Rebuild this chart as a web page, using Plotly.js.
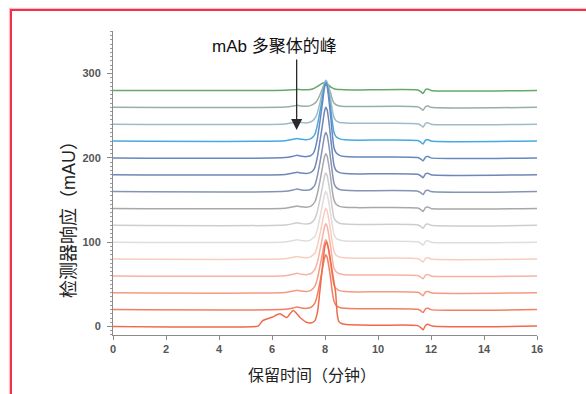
<!DOCTYPE html>
<html>
<head>
<meta charset="utf-8">
<script src="https://cdn.plot.ly/plotly-3.0.1.min.js"></script>
<style>
  html, body { margin: 0; padding: 0; background: #fff; overflow: hidden; }
  #chart { width: 586px; height: 394px; position: absolute; left: 0; top: 0; }
  #frame { position: absolute; left: 10px; top: 9px; width: 800px; height: 600px;
           border: 2px solid #ec3348; box-shadow: 0 0 1px 1px rgba(240,110,130,0.45);
           pointer-events: none; }
</style>
</head>
<body>
<div id="chart"></div>
<div id="frame"></div>
<script>
// Retention time grid for the bottom (first) run
const bottomTimes = [0, 5.4, 5.5, 5.65, 6.0, 6.3, 6.55, 6.8, 7.05, 7.3, 7.5, 7.62, 7.72, 7.8, 7.9, 8.0, 8.05, 8.12, 8.2, 8.3, 8.4, 8.46, 8.52, 8.62, 8.8, 10.0, 11.5, 11.62, 11.7, 11.8, 11.9, 12.05, 16];
const run0 = [0, 0, 1, 7, 11, 15, 10.5, 19, 11, 5, 4.5, 7, 18, 40, 70, 96, 100, 94, 80, 60, 40, 15, 6, 3.5, 2.5, 1.5, 1, -1.5, -4, 1.5, 2.5, 0.5, 0.5];

// Retention time grid for the stacked runs
const stackTimes = [0, 6.5, 6.8, 6.95, 7.1, 7.3, 7.45, 7.55, 7.62, 7.7, 7.8, 7.9, 7.98, 8.03, 8.08, 8.15, 8.22, 8.28, 8.34, 8.42, 8.55, 8.75, 9.2, 11.5, 11.62, 11.7, 11.8, 11.9, 12.0, 16];
const run20  = [0, 0.3, 2, 3, 2, 1.5, 2.5, 5, 8, 16, 31, 48, 61, 65, 62, 50, 35, 20, 10, 5, 2.5, 1.5, 1, 0.5, -1.5, -3.5, 1.2, 1.5, 0, 0];
const run40  = [0, 0.3, 2, 3, 2, 1.5, 2.5, 5, 8, 15, 30, 46, 59, 63, 60, 48, 33, 19, 9, 5, 2.5, 1.5, 1, 0.5, -1.5, -3.5, 1.2, 1.5, 0, 0];
const run60  = [0, 0.3, 2, 3, 2, 1.5, 2.5, 5, 8, 15, 29, 45, 58, 62, 59, 47, 33, 19, 9, 5, 2.5, 1.5, 1, 0.5, -1.5, -3.5, 1.2, 1.5, 0, 0];
const run80  = [0, 0.3, 2, 3, 2, 1.5, 2.5, 5, 7, 14, 28, 44, 56, 60, 57, 46, 32, 19, 9, 4.5, 2.5, 1.5, 1, 0.5, -1.5, -3.5, 1.2, 1.5, 0, 0];
const run100 = [0, 0.3, 2, 3, 2, 1.5, 2.5, 5, 7, 14, 28, 44, 56, 60, 57, 46, 32, 19, 9, 4.5, 2.5, 1.5, 1, 0.5, -1.5, -3.5, 1.2, 1.5, 0, 0];
const run120 = [0, 0.3, 2, 3, 2, 1.5, 2.5, 5, 8, 15, 29, 45, 58, 62, 59, 47, 33, 19, 9, 5, 2.5, 1.5, 1, 0.5, -1.5, -3.5, 1.2, 1.5, 0, 0];
const run140 = [0, 0.3, 2, 3, 2, 1.5, 2.5, 5, 8, 16, 31, 48, 61, 65, 62, 50, 35, 20, 10, 5, 2.5, 1.5, 1, 0.5, -1.5, -3.5, 1.2, 1.5, 0, 0];
const run160 = [0, 0.3, 2, 3, 2, 1.5, 2.5, 5, 8, 17, 33, 51, 66, 70, 67, 54, 37, 22, 10, 5, 2.5, 1.5, 1, 0.5, -1.5, -3.5, 1.2, 1.5, 0, 0];
const run180 = [0, 0.3, 2, 3, 2, 1.5, 2.5, 5, 9, 19, 38, 58, 75, 80, 77, 62, 42, 25, 11, 5, 2.5, 1.5, 1, 0.5, -1.5, -3.5, 1.2, 1.5, 0, 0];
const run200 = [0, 0.3, 2, 3, 2, 1.5, 2.5, 5, 10, 21, 41, 64, 83, 88, 85, 68, 47, 27, 12, 6, 3, 1.5, 1, 0.5, -1.5, -3.5, 1.2, 1.5, 0, 0];
const run220 = [0, 0.3, 2, 3, 2, 1.5, 2.5, 5, 8, 17, 33, 51, 66, 70, 67, 54, 37, 22, 10, 5, 2.5, 1.5, 1, 0.5, -1.5, -3.5, 1.2, 1.5, 0, 0];
const run240 = [0, 0.3, 2, 3, 2, 1.5, 2.5, 4.5, 7, 12, 24, 38, 49, 52, 50, 41, 28, 16, 8, 4, 2, 1.5, 1, 0.5, -1.5, -3.5, 1.2, 1.5, 0, 0];
const run260 = [0, 0.3, 1.5, 2.5, 1.5, 1.2, 2, 3.5, 5, 8, 14, 22, 28, 30, 29, 23, 16, 9, 5, 3, 1.5, 1, 0.8, 0.5, -1.5, -3.5, 1.2, 1.5, 0, 0];
const run280 = [0, 0.2, 0.8, 1.2, 0.8, 0.8, 1, 2, 3, 4.5, 6.5, 8.5, 9, 8.5, 7.5, 6, 4, 3, 2, 1.5, 1, 0.8, 0.5, 0.5, -1.5, -3.5, 1.2, 1.5, 0, 0];

// Vertical offsets of the stacked chromatograms (mAU)
const offsets = [0, 20, 40, 60, 80, 100, 120, 140, 160, 180, 200, 220, 240, 260, 280];
const runs = [run0, run20, run40, run60, run80, run100, run120, run140, run160, run180, run200, run220, run240, run260, run280];

// Tick labels
const xTicks = [0, 2, 4, 6, 8, 10, 12, 14, 16];
const yTicks = [0, 100, 200, 300];

// Styles (kept apart from the data)
const lineColors = ['#f06a4a', '#f27f61', '#f59a82', '#f7b3a1', '#f8cdbf', '#e2dcdb', '#cdcdd0', '#a8a8ac',
                    '#8594b4', '#6f86b8', '#6688c0', '#4aa8e0', '#9cbcc8', '#98b0a0', '#66a86c'];

const traces = [];
for (let i = runs.length - 1; i >= 0; i--) {
  const t = (i === 0) ? bottomTimes : stackTimes;
  traces.push({
    type: 'scatter', mode: 'lines',
    x: t,
    y: runs[i].map(v => v + offsets[i]),
    line: { color: lineColors[i], width: 1.5, shape: 'spline', smoothing: 0.6 },
    hoverinfo: 'skip', showlegend: false
  });
}

const tickFont = { family: '"Liberation Sans Narrow", "Liberation Sans", Arial, sans-serif', size: 11, color: '#555', weight: 'bold' };
const cjk = '"Liberation Sans", "Noto Sans CJK SC", sans-serif';

const layout = {
  width: 586, height: 394,
  margin: { l: 113, r: 49, t: 31, b: 59 },
  paper_bgcolor: 'rgba(0,0,0,0)', plot_bgcolor: 'rgba(0,0,0,0)',
  showlegend: false,
  xaxis: {
    range: [0, 16], tickvals: xTicks, ticktext: xTicks.map(String),
    showgrid: false, zeroline: false, showline: true, linecolor: '#8a8a8a', linewidth: 1,
    ticks: 'outside', ticklen: 4, tickcolor: '#8a8a8a', tickfont: tickFont
  },
  yaxis: {
    range: [-10.1, 350.5], tickvals: yTicks, ticktext: yTicks.map(String),
    showgrid: false, zeroline: false, showline: true, linecolor: '#8a8a8a', linewidth: 1,
    ticks: 'outside', ticklen: 5, tickcolor: '#8a8a8a', tickfont: tickFont, ticklabelstandoff: 4,
    minor: { dtick: 5, ticks: 'outside', ticklen: 2.5, tickcolor: '#9a9a9a' }
  },
  annotations: [
    { xref: 'x', yref: 'y', x: 6.094, y: 331.6, text: 'mAb 多聚体的峰', showarrow: false,
      font: { family: cjk, size: 17, color: '#111' } },
    { xref: 'x', yref: 'y', x: 6.93, y: 233, ax: 6.93, ay: 318.5, axref: 'x', ayref: 'y',
      text: '', showarrow: true, arrowhead: 2, arrowsize: 1.7, arrowwidth: 1.3, arrowcolor: '#2a2a2a' },
    { xref: 'paper', yref: 'paper', x: 0.469, y: -0.1316, xanchor: 'center', yanchor: 'middle',
      text: '保留时间（分钟）', showarrow: false, font: { family: cjk, size: 16, color: '#222' } },
    { xref: 'paper', yref: 'paper', x: -0.1038, y: 0.395, xanchor: 'center', yanchor: 'middle',
      text: '检测器响应（mAU）', textangle: -90, showarrow: false, font: { family: cjk, size: 18, color: '#222' } }
  ]
};

Plotly.newPlot('chart', traces, layout, { staticPlot: true, displayModeBar: false });
</script>
</body>
</html>
